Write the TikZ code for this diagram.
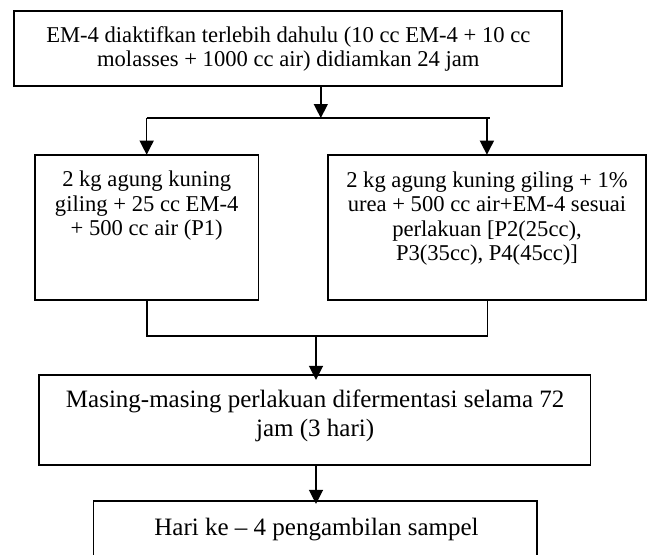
\documentclass[tikz,border=0pt]{standalone}
\usepackage{fontspec}
\setmainfont{Liberation Serif}
\usetikzlibrary{arrows.meta}
\begin{document}
\begin{tikzpicture}[x=1pt,y=-1pt,
  box/.style={draw, line width=1.6pt, inner sep=0pt, rectangle},
  txt/.style={align=center, inner sep=0pt, anchor=base},
  small/.style={font=\fontsize{22.6}{24.5}\selectfont},
  big/.style={font=\fontsize{25}{29.4}\selectfont},
  conn/.style={line width=1.4pt},
  arr/.style={line width=1.4pt, -{Triangle[width=14pt,length=14pt]}}]
\useasboundingbox (0,0) rectangle (647,554);
\clip (0,0) rectangle (647,554);
% boxes
\node[box, minimum width=548pt, minimum height=74.7pt] (top) at (288,48.35) {};
\node[box, minimum width=223.3pt, minimum height=145pt] (p1) at (146.65,227.5) {};
\node[box, minimum width=318.2pt, minimum height=145pt] (p2) at (486.9,227.5) {};
\node[box, minimum width=551.3pt, minimum height=90pt] (mid) at (314.65,419.7) {};
\node[box, minimum width=443.7pt, minimum height=80pt] (bot) at (315.15,540.7) {};
% texts (base anchor = baseline of the last line)
\node[txt, small] (ttop) at (288.3,66.7) {EM-4 diaktifkan terlebih dahulu (10 cc EM-4 + 10 cc\\molasses + 1000 cc air) didiamkan 24 jam};
\node[txt, small] (tp1) at (146.7,235.7) {2 kg agung kuning\\giling + 25 cc EM-4\\+ 500 cc air (P1)};
\node[txt, small] (tp2) at (487,260.7) {2 kg agung kuning giling + 1\%\\urea + 500 cc air+EM-4 sesuai\\perlakuan [P2(25cc),\\P3(35cc), P4(45cc)]};
\node[txt, big] (tmid) at (315.2,436.7) {Masing-masing perlakuan difermentasi selama 72\\jam (3 hari)};
\node[txt, big] (tbot) at (316.5,535.7) {Hari ke – 4 pengambilan sampel};
% connectors
\coordinate (split) at (320.8,118);
\coordinate (splitL) at (p1.north |- split);
\coordinate (splitR) at (p2.north |- split);
\coordinate (splitRe) at (489.5,118);
\coordinate (joinL) at (147,336);
\coordinate (joinR) at (487.6,336);
\coordinate (joinM) at (316,336);
\draw[arr] (top.south -| split) -- (split);
\draw[conn] (splitL) -- (splitRe);
\draw[arr] (splitL) -- ([yshift=-0.5pt]p1.north);
\draw[arr] (splitR) -- ([yshift=-0.5pt]p2.north);
\draw[conn] (p1.south -| joinL) -- (joinL) -- (joinR) -- (p2.south -| joinR);
\draw[arr] (joinM) -- ([yshift=-6pt]mid.north -| joinM);
\draw[arr] (mid.south -| joinM) -- ([yshift=-4pt]bot.north -| joinM);
\end{tikzpicture}
\end{document}
